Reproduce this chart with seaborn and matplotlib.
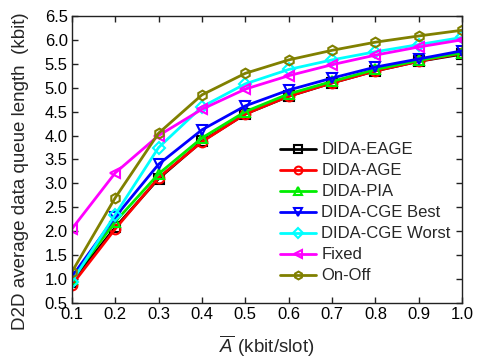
import matplotlib
matplotlib.use("Agg")
import matplotlib.pyplot as plt
import seaborn as sns
import pandas as pd

# arrival rate (kbit/slot)
arrival = [0.1, 0.2, 0.3, 0.4, 0.5, 0.6, 0.7, 0.8, 0.9, 1.0]

# average D2D queue length (kbit)
dida_eage = [0.95, 2.08, 3.10, 3.88, 4.45, 4.82, 5.10, 5.35, 5.55, 5.70]
dida_age = [0.88, 2.05, 3.12, 3.87, 4.45, 4.82, 5.10, 5.35, 5.55, 5.72]
dida_pia = [1.00, 2.20, 3.20, 3.95, 4.50, 4.87, 5.13, 5.38, 5.57, 5.73]
dida_cge_best = [1.05, 2.30, 3.40, 4.12, 4.62, 4.95, 5.20, 5.43, 5.60, 5.77]
dida_cge_worst = [0.95, 2.35, 3.75, 4.60, 5.08, 5.38, 5.58, 5.75, 5.90, 6.05]
fixed = [2.05, 3.22, 4.00, 4.55, 4.97, 5.25, 5.48, 5.68, 5.85, 6.00]
on_off = [1.15, 2.70, 4.05, 4.85, 5.30, 5.58, 5.78, 5.95, 6.08, 6.20]

series = {
    "DIDA-EAGE": dida_eage,
    "DIDA-AGE": dida_age,
    "DIDA-PIA": dida_pia,
    "DIDA-CGE Best": dida_cge_best,
    "DIDA-CGE Worst": dida_cge_worst,
    "Fixed": fixed,
    "On-Off": on_off,
}
colors = ["#000000", "#ff0000", "#00ee00", "#0000ff", "#00ffff", "#ff00ff", "#808000"]
markers = ["s", "o", "^", "v", "D", "<", "h"]

sns.set_style("ticks")
plt.rcParams["font.family"] = ["Liberation Sans", "DejaVu Sans"]
plt.rcParams["mathtext.fontset"] = "custom"
plt.rcParams["mathtext.it"] = "Liberation Sans:italic"
plt.rcParams["mathtext.rm"] = "Liberation Sans"

fig = plt.figure(figsize=(4.79, 3.6), dpi=100)
ax = fig.add_axes([0.150, 0.158, 0.815, 0.798])

for (name, vals), c, m in zip(series.items(), colors, markers):
    df = pd.DataFrame({"x": arrival, "y": vals})
    ms = 7 if m not in ("D",) else 6
    sns.lineplot(data=df, x="x", y="y", ax=ax, color=c, marker=m, markersize=ms,
                 markerfacecolor="none", markeredgecolor=c, markeredgewidth=1.5,
                 linewidth=2, label=name)

ax.set_xlim(0.1, 1.0)
ax.set_ylim(0.5, 6.5)
ax.set_xticks(arrival)
ax.set_xticklabels([f"{v:.1f}" for v in arrival])
yt = [0.5 + 0.5 * i for i in range(13)]
ax.set_yticks(yt)
ax.set_yticklabels([f"{v:.1f}" for v in yt])
ax.tick_params(direction="in", top=True, right=True, labelsize=12, length=4,
               width=1, colors="#222222", labelcolor="black", pad=3)
for s in ax.spines.values():
    s.set_color("#222222")
    s.set_linewidth(1)

ax.set_xlabel(r"$\overline{A}$ (kbit/slot)", fontsize=13.5)
ax.set_ylabel("D2D average data queue length  (kbit)", fontsize=13.5)
ax.xaxis.set_label_coords(0.5, -0.105)
ax.yaxis.set_label_coords(-0.11, 0.46)

ax.legend(loc="lower right", bbox_to_anchor=(1.0, 0.028), frameon=False,
          fontsize=12, handlelength=2.2, handletextpad=0.3,
          labelspacing=0.36, borderaxespad=0.3, markerscale=0.8)

plt.savefig("out.png", dpi=100)
plt.close()
